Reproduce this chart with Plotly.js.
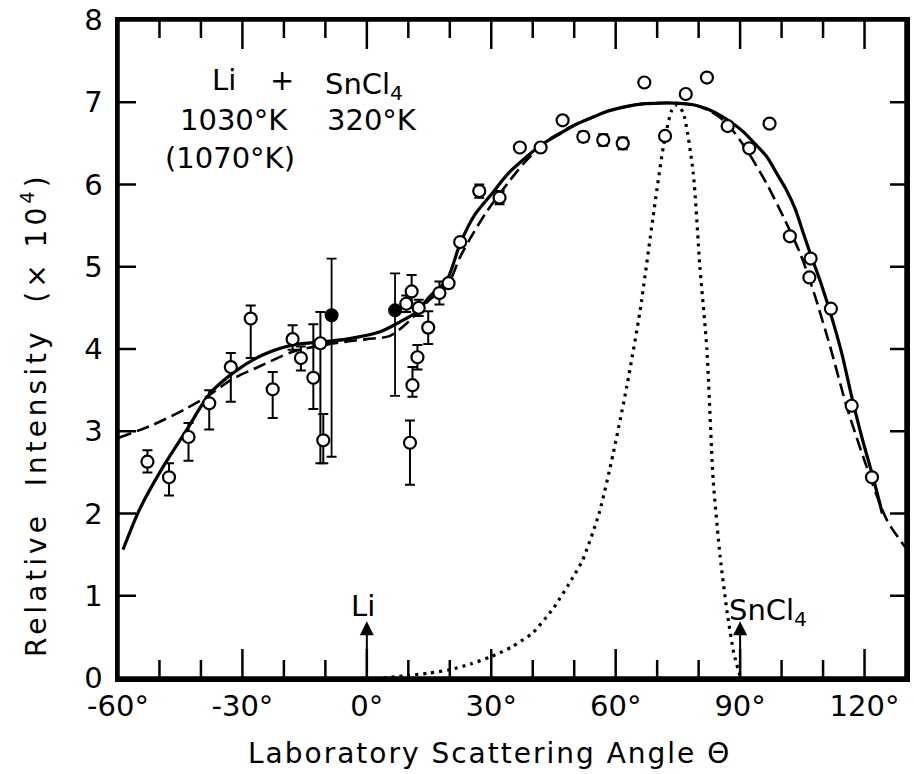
<!DOCTYPE html>
<html>
<head>
<meta charset="utf-8">
<script src="https://cdn.plot.ly/plotly-3.0.1.min.js"></script>
<style>
  html, body { margin: 0; padding: 0; background: #ffffff; }
  #chart { width: 914px; height: 774px; }
</style>
</head>
<body>
<div id="chart"></div>
<script>
// ---- Measured data points (open circles) ----
const angleOpen    = [-52.9, -47.7, -43.0, -38.0, -32.8, -28.0, -22.7, -17.9, -15.9, -12.9, -10.5, -11.2,
                       9.5, 10.8, 12.5, 14.8, 12.2, 11.0, 10.4, 17.5, 19.7, 22.5, 27.1, 32.0, 36.9, 41.9,
                       47.2, 52.2, 57.0, 61.7, 66.9, 71.9, 76.9, 82.0, 87.0, 92.2, 97.1, 102.0, 107.0, 106.7,
                       111.9, 116.9, 121.8];
const intensOpen   = [2.63, 2.44, 2.93, 3.34, 3.78, 4.37, 3.51, 4.12, 3.89, 3.65, 2.89, 4.07,
                       4.55, 4.70, 4.50, 4.26, 3.90, 3.56, 2.86, 4.68, 4.80, 5.30, 5.92, 5.84, 6.45, 6.45,
                       6.78, 6.58, 6.54, 6.50, 7.24, 6.59, 7.10, 7.30, 6.71, 6.44, 6.74, 5.37, 5.10, 4.87,
                       4.49, 3.31, 2.44];
const errPlusOpen  = [0.14, 0.17, 0.17, 0.16, 0.17, 0.16, 0.21, 0.17, 0.14, 0.65, 0.32, 0.38,
                       0.10, 0.20, 0.10, 0.20, 0.15, 0.22, 0.27, 0.14, 0.05, 0.04, 0.08, 0.08, 0, 0.04,
                       0, 0.06, 0.07, 0.07, 0, 0, 0, 0, 0, 0, 0, 0, 0, 0,
                       0, 0, 0];
const errMinusOpen = [0.13, 0.22, 0.29, 0.32, 0.42, 0.48, 0.35, 0.13, 0.15, 0.38, 0.28, 1.46,
                       0.10, 0.20, 0.10, 0.20, 0.15, 0.14, 0.51, 0.14, 0.05, 0.04, 0.08, 0.08, 0, 0.04,
                       0, 0.06, 0.07, 0.07, 0, 0, 0, 0, 0, 0, 0, 0, 0, 0,
                       0, 0, 0];

// ---- Measured data points (filled circles) ----
const angleFilled    = [-8.5, 6.8];
const intensFilled   = [4.41, 4.47];
const errPlusFilled  = [0.69, 0.45];
const errMinusFilled = [1.72, 1.04];

// ---- Solid calculated curve ----
const solidAngle = [-58.8, -54.7, -49.1, -43.4, -37.8, -31.4, -25.0, -17.7, -10, -4.9, 3.2, 8.0, 12, 15.2, 19.3,
                    22.5, 26, 30.5, 34, 38.6, 42, 46.6, 50, 54.6, 58, 62.7, 66.5, 70.7, 74, 78.7, 82, 85.2,
                    88, 90.8, 93.5, 96.4, 99, 101.2, 103.3, 105.3, 107, 109.5, 112, 114.5, 117, 119.5, 122, 124.3];
const solidIntens = [1.56, 2.06, 2.57, 3.02, 3.46, 3.74, 3.93, 4.05, 4.09, 4.12, 4.21, 4.33, 4.45, 4.64, 4.84,
                     5.28, 5.63, 5.91, 6.13, 6.34, 6.48, 6.62, 6.72, 6.82, 6.89, 6.95, 6.98, 6.99, 6.99, 6.97, 6.92, 6.84,
                     6.75, 6.64, 6.50, 6.34, 6.12, 5.93, 5.70, 5.40, 5.15, 4.80, 4.40, 3.95, 3.40, 2.90, 2.45, 2.00];

// ---- Dashed calculated curve ----
const dashAngle = [-59.8, -51.5, -43.4, -38.6, -32.2, -25.8, -17.7, -10, -4.9, 0, 5.6, 10, 15.2, 19.3,
                   22.5, 25, 28.9, 34.5, 38.6, 44, 50, 54.6, 58, 62.7, 66.5, 70.7, 74, 78.7, 82, 85, 88,
                   91.6, 96.4, 100.4, 104.5, 107.7, 111.7, 115.7, 120.5, 125.4, 130];
const dashIntens = [2.92, 3.08, 3.28, 3.42, 3.64, 3.79, 3.97, 4.05, 4.09, 4.12, 4.16, 4.33, 4.60, 4.76,
                    5.12, 5.35, 5.67, 6.05, 6.30, 6.55, 6.72, 6.82, 6.89, 6.95, 6.98, 6.99, 6.99, 6.97, 6.91, 6.82, 6.67,
                    6.42, 6.01, 5.61, 5.16, 4.70, 4.03, 3.30, 2.57, 1.92, 1.58];

// ---- Dotted curve ----
const dotAngle = [4, 10, 15, 20, 25, 30, 35, 40, 45, 50, 52, 56, 59.4, 62.7, 65.9, 69, 71.5, 73.5, 74.8,
                  76.3, 78.7, 80.3, 82, 83.5, 85.2, 86.9, 88.5, 90];
const dotIntens = [0, 0.03, 0.06, 0.10, 0.17, 0.26, 0.38, 0.55, 0.85, 1.25, 1.43, 2.00, 2.73, 3.55, 4.47, 5.60, 6.46, 6.90, 6.97,
                   6.87, 6.14, 5.00, 3.99, 2.41, 1.47, 0.79, 0.30, 0.02];

// ---- Axis ticks ----
const xTickVals = [-60, -30, 0, 30, 60, 90, 120];
const xTickText = ['-60°', '-30°', '0°', '30°', '60°', '90°', '120°'];
const xMajorTickMarks = [-30, 0, 30, 60, 90, 120];
const xMinorTickMarks = [-50, -40, -20, -10, 10, 20, 40, 50, 70, 80, 100, 110];
const yTickVals = [0, 1, 2, 3, 4, 5, 6, 7, 8];
const yTickText = ['0', '1', '2', '3', '4', '5', '6', '7', '8'];
const yTickMarks = [1, 2, 3, 4, 5, 6, 7];

// ---- Beam direction markers ----
const beamAngles = [0, 90];
const beamLabels = ['Li', 'SnCl<sub>4</sub>'];

const FONT = 'DejaVu Sans, Liberation Sans, sans-serif';

const traces = [
  {
    x: dotAngle, y: dotIntens, type: 'scatter', mode: 'lines',
    line: {color: 'black', width: 3.2, dash: '3px,5px', shape: 'spline', smoothing: 0.6},
    hoverinfo: 'skip'
  },
  {
    x: dashAngle, y: dashIntens, type: 'scatter', mode: 'lines',
    line: {color: 'black', width: 2.6, dash: '13px,6px', shape: 'spline', smoothing: 0.8}
  },
  {
    x: solidAngle, y: solidIntens, type: 'scatter', mode: 'lines',
    line: {color: 'black', width: 3.2, shape: 'spline', smoothing: 0.8}
  },
  {
    x: angleOpen, y: intensOpen, type: 'scatter', mode: 'markers',
    marker: {symbol: 'circle', size: 12, color: 'white', line: {color: 'black', width: 2.2}},
    error_y: {type: 'data', symmetric: false, array: errPlusOpen, arrayminus: errMinusOpen,
              color: 'black', thickness: 2, width: 5}
  },
  {
    x: angleFilled, y: intensFilled, type: 'scatter', mode: 'markers',
    marker: {symbol: 'circle', size: 12, color: 'black', line: {color: 'black', width: 2}},
    error_y: {type: 'data', symmetric: false, array: errPlusFilled, arrayminus: errMinusFilled,
              color: 'black', thickness: 1.8, width: 5}
  }
];

const annFont = {family: FONT, size: 29, color: 'black'};
const annotations = [
  {x: -37.8, y: 7.27, xref: 'x', yref: 'y', text: 'Li', showarrow: false, xanchor: 'left', yanchor: 'middle', font: annFont},
  {x: -20.5, y: 7.27, xref: 'x', yref: 'y', text: '+', showarrow: false, xanchor: 'center', yanchor: 'middle', font: annFont},
  {x: -10.6, y: 7.20, xref: 'x', yref: 'y', text: 'SnCl<sub>4</sub>', showarrow: false, xanchor: 'left', yanchor: 'middle', font: annFont},
  {x: -45.5, y: 6.78, xref: 'x', yref: 'y', text: '1030°K', showarrow: false, xanchor: 'left', yanchor: 'middle', font: annFont},
  {x: -10.1, y: 6.78, xref: 'x', yref: 'y', text: '320°K', showarrow: false, xanchor: 'left', yanchor: 'middle', font: annFont},
  {x: -49.1, y: 6.32, xref: 'x', yref: 'y', text: '(1070°K)', showarrow: false, xanchor: 'left', yanchor: 'middle', font: annFont},
  // beam arrows
  {x: beamAngles[0], y: 0.69, ax: beamAngles[0], ay: 0, xref: 'x', yref: 'y', axref: 'x', ayref: 'y',
   text: '', showarrow: true, arrowhead: 2, arrowsize: 1.4, arrowwidth: 2, arrowcolor: 'black'},
  {x: beamAngles[1], y: 0.69, ax: beamAngles[1], ay: 0, xref: 'x', yref: 'y', axref: 'x', ayref: 'y',
   text: '', showarrow: true, arrowhead: 2, arrowsize: 1.4, arrowwidth: 2, arrowcolor: 'black'},
  {x: beamAngles[0] - 1, y: 0.88, xref: 'x', yref: 'y', text: beamLabels[0], showarrow: false,
   xanchor: 'center', yanchor: 'middle', font: annFont},
  {x: 86.9, y: 0.80, xref: 'x', yref: 'y', text: beamLabels[1], showarrow: false,
   xanchor: 'left', yanchor: 'middle', font: annFont},
  // axis titles
  {x: 0.472, y: -0.114, xref: 'paper', yref: 'paper', text: 'Laboratory Scattering Angle Θ', showarrow: false,
   xanchor: 'center', yanchor: 'middle', font: {family: FONT, size: 28, color: 'black'}},
  {x: -0.105, y: 0.40, xref: 'paper', yref: 'paper', text: 'Relative\u00A0 Intensity\u00A0 (×\u00A010<sup>4</sup>)', showarrow: false,
   textangle: -90, xanchor: 'center', yanchor: 'middle', font: {family: FONT, size: 28, color: 'black'}}
];

// ---- Tick marks and frame drawn as shapes placed through the axes' own scales ----
const tickLine = {color: 'black', width: 2.5};
const shapes = [];
function xTick(v, len) {
  shapes.push({type: 'line', xref: 'x', yref: 'paper', ysizemode: 'pixel', yanchor: 0,
               x0: v, x1: v, y0: 0, y1: len, line: tickLine, layer: 'above'});
  shapes.push({type: 'line', xref: 'x', yref: 'paper', ysizemode: 'pixel', yanchor: 1,
               x0: v, x1: v, y0: 0, y1: -len, line: tickLine, layer: 'above'});
}
xMajorTickMarks.forEach(v => xTick(v, 29));
xMinorTickMarks.forEach(v => xTick(v, 18));
yTickMarks.forEach(v => {
  shapes.push({type: 'line', yref: 'y', xref: 'paper', xsizemode: 'pixel', xanchor: 0,
               y0: v, y1: v, x0: 0, x1: 18, line: tickLine, layer: 'above'});
  shapes.push({type: 'line', yref: 'y', xref: 'paper', xsizemode: 'pixel', xanchor: 1,
               y0: v, y1: v, x0: 0, x1: -16, line: tickLine, layer: 'above'});
});
shapes.push({type: 'rect', xref: 'paper', yref: 'paper', x0: 0, x1: 1, y0: 0, y1: 1,
             line: {color: 'black', width: 3.5}, fillcolor: 'rgba(0,0,0,0)', layer: 'above'});

const layout = {
  width: 914, height: 774,
  margin: {l: 118, r: 8, t: 20, b: 96, pad: 0},
  showlegend: false,
  xaxis: {
    range: [-60, 130], showgrid: false, zeroline: false,
    showline: true, linewidth: 3.5, linecolor: 'black', mirror: true,
    ticks: '',
    tickmode: 'array', tickvals: xTickVals, ticktext: xTickText,
    tickfont: {family: FONT, size: 29, color: 'black'}
  },
  yaxis: {
    range: [0, 8], showgrid: false, zeroline: false,
    showline: true, linewidth: 3.5, linecolor: 'black', mirror: true,
    ticks: '',
    tickmode: 'array', tickvals: yTickVals, ticktext: yTickText,
    tickfont: {family: FONT, size: 29, color: 'black'},
    ticklabelstandoff: 6
  },
  annotations: annotations,
  shapes: shapes
};

Plotly.newPlot('chart', traces, layout, {displayModeBar: false, staticPlot: true}).then(() => {
  // widen the lettering of the axis titles a little, after Plotly has finished drawing
  document.querySelectorAll('g.annotation').forEach(g => {
    const idx = g.getAttribute('data-index');
    const t = g.querySelector('text.annotation-text');
    if (!t) return;
    if (idx === '10') t.style.letterSpacing = '2px';
    if (idx === '11') t.style.letterSpacing = '4px';
  });
});
</script>
</body>
</html>
